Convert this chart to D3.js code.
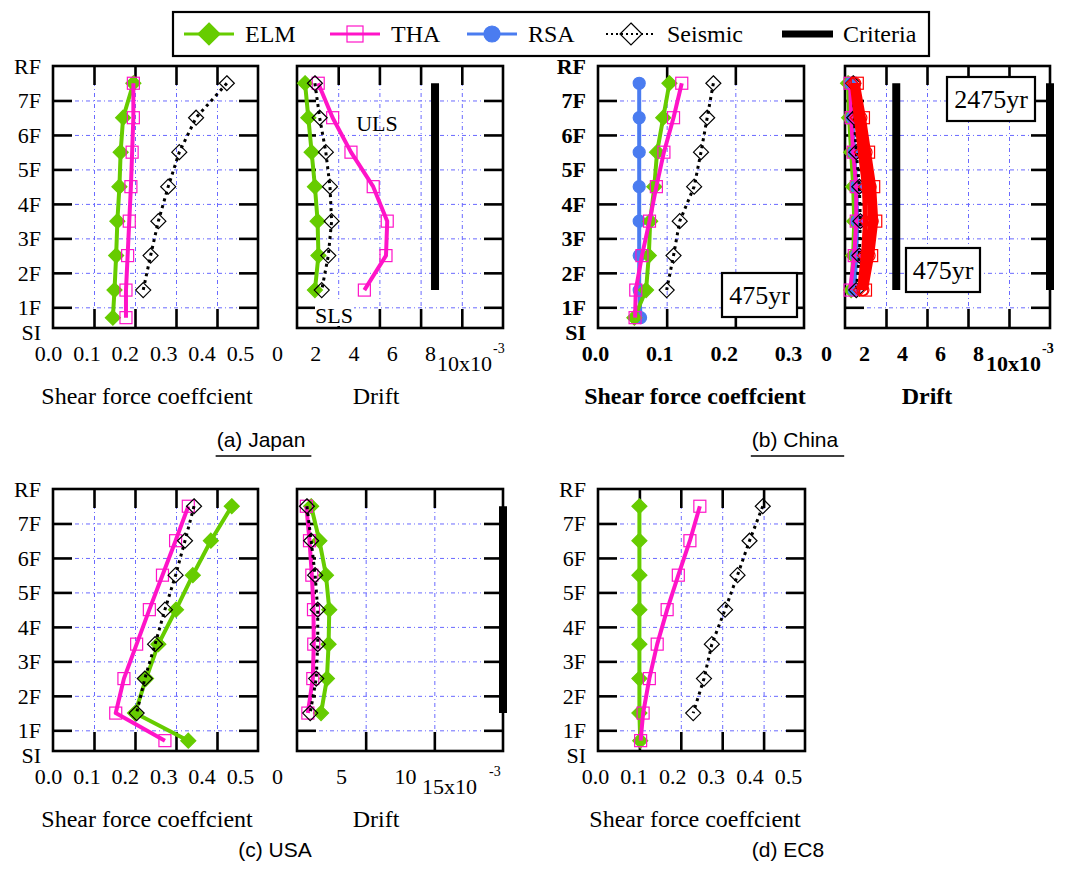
<!DOCTYPE html>
<html><head><meta charset="utf-8">
<script src="https://cdn.jsdelivr.net/npm/d3@7/dist/d3.min.js"></script>
<style>body{margin:0;background:#fff}svg{display:block}</style>
</head><body>
<svg id="chart" width="1092" height="874"></svg>
<script>
// ---------- data ----------
const floorLevels = [7.5, 6.5, 5.5, 4.5, 3.5, 2.5, 1.5];
const siLevel = [0.7];
const floorTickValues = [8, 7, 6, 5, 4, 3, 2, 1, 0.27];
const floorTickLabels = ["RF", "7F", "6F", "5F", "4F", "3F", "2F", "1F", "SI"];
const floorGrid = [7, 6, 5, 4, 3, 2, 1];

const shearTicks = [0, 0.1, 0.2, 0.3, 0.4, 0.5];
const shearTicksChina = [0, 0.1, 0.2, 0.3];
const driftTicks = [0, 2, 4, 6, 8];
const driftTicksUSA = [0, 5, 10];

// (a) Japan
const japanShearELM = [0.196, 0.171, 0.165, 0.162, 0.157, 0.154, 0.150, 0.146];
const japanShearTHA = [0.196, 0.196, 0.193, 0.190, 0.186, 0.182, 0.178, 0.178];
const japanShearSeismic = [0.424, 0.349, 0.308, 0.281, 0.257, 0.238, 0.220];
const japanDriftELM = [0.39, 0.55, 0.71, 0.87, 1.00, 1.04, 0.87];
const japanDriftTHA = [1.03, 1.73, 2.62, 3.70, 4.38, 4.32, 3.27];
const japanDriftSeismic = [0.87, 1.10, 1.40, 1.60, 1.68, 1.52, 1.20];
const japanCriteria = [6.7];

// (b) China
const chinaShearELM = [0.104, 0.095, 0.086, 0.082, 0.076, 0.074, 0.070, 0.053];
const chinaShearTHA = [0.122, 0.110, 0.096, 0.085, 0.075, 0.064, 0.055, 0.054];
const chinaShearRSA = [0.060, 0.060, 0.060, 0.060, 0.060, 0.060, 0.060, 0.062];
const chinaShearSeismic = [0.168, 0.159, 0.150, 0.140, 0.119, 0.110, 0.100];
const chinaDriftELM = [0.15, 0.20, 0.30, 0.40, 0.45, 0.40, 0.30];
const chinaDriftTHA = [0.25, 0.30, 0.40, 0.55, 0.55, 0.45, 0.25];
const chinaDriftRSA = [0.30, 0.35, 0.45, 0.55, 0.60, 0.55, 0.45];
const chinaDriftSeismic = [0.40, 0.45, 0.55, 0.70, 0.75, 0.70, 0.55];
const chinaDrift2475ELM = [0.35, 0.55, 0.75, 0.95, 1.00, 0.90, 0.70];
const chinaDrift2475RSA = [0.50, 0.80, 1.05, 1.25, 1.35, 1.20, 0.90];
const chinaDrift2475Seismic = [0.45, 0.70, 0.95, 1.15, 1.25, 1.05, 0.85];
const chinaDrift2475THA = [0.60, 0.90, 1.15, 1.40, 1.50, 1.30, 1.00];
const chinaCriteria = [2.5, 10];

// (c) USA
const usaShearELM = [0.436, 0.385, 0.341, 0.300, 0.257, 0.227, 0.200, 0.330];
const usaShearTHA = [0.330, 0.299, 0.267, 0.235, 0.204, 0.173, 0.153, 0.273];
const usaShearSeismic = [0.344, 0.322, 0.299, 0.273, 0.249, 0.224, 0.204];
const usaDriftELM = [1.03, 1.63, 2.11, 2.35, 2.30, 2.18, 1.75];
const usaDriftTHA = [0.68, 0.91, 1.08, 1.20, 1.22, 1.15, 0.79];
const usaDriftSeismic = [0.72, 1.03, 1.32, 1.51, 1.51, 1.40, 0.96];
const usaCriteria = [15];

// (d) EC8
const ec8ShearELM = [0.100, 0.100, 0.100, 0.100, 0.100, 0.100, 0.100, 0.102];
const ec8ShearTHA = [0.246, 0.222, 0.194, 0.167, 0.143, 0.124, 0.109, 0.103];
const ec8ShearSeismic = [0.398, 0.366, 0.337, 0.307, 0.275, 0.256, 0.230];

const legendNames = ["ELM", "THA", "RSA", "Seismic", "Criteria"];

// ---------- styles ----------
const SERIF = "Liberation Serif, Times New Roman, serif";
const SANS = "Liberation Sans, Arial, sans-serif";
const GRID = "#6a6aff";
const styles = {
  ELM: {color: "#66cc00", width: 4, dash: null, marker: "diamond", fill: true, size: 15},
  THA: {color: "#ff14c8", width: 4, dash: null, marker: "square", fill: false, size: 12},
  RSA: {color: "#4a7cf0", width: 4, dash: null, marker: "circle", fill: true, size: 12},
  Seismic: {color: "#000", width: 3, dash: "3,4", marker: "diamond", fill: false, size: 15, mcolor: "#000"},
  R_ELM: {color: "#ff0000", width: 5, dash: null, marker: "diamond", fill: false, size: 12},
  R_RSA: {color: "#ff0000", width: 5, dash: null, marker: "circle", fill: false, size: 11},
  R_Seismic: {color: "#ff0000", width: 5, dash: null, marker: "circle", fill: false, size: 11},
  R_THA: {color: "#ff0000", width: 5, dash: null, marker: "square", fill: false, size: 12}
};

const svg = d3.select("#chart");

function drawMarker(g, type, cx, cy, size, color, fill, sw) {
  const h = size / 2;
  let el;
  if (type === "diamond") {
    el = g.append("path").attr("d", `M${cx},${cy - h}L${cx + h},${cy}L${cx},${cy + h}L${cx - h},${cy}Z`);
  } else if (type === "square") {
    el = g.append("rect").attr("x", cx - h).attr("y", cy - h).attr("width", size).attr("height", size);
  } else {
    el = g.append("circle").attr("cx", cx).attr("cy", cy).attr("r", h);
  }
  el.attr("fill", fill ? color : "none").attr("stroke", color).attr("stroke-width", sw || 1.2);
}

function panel(cfg) {
  const g = svg.append("g");
  const x = d3.scaleLinear().domain(cfg.xDomain).range([cfg.left, cfg.right]);
  const y = d3.scaleLinear().domain([0.4, 8]).range([cfg.bottom, cfg.top]);
  const W = cfg.right - cfg.left, H = cfg.bottom - cfg.top;
  const fw = cfg.bold ? "bold" : "normal";

  // grid
  g.append("g").attr("transform", `translate(0,${cfg.bottom})`)
    .call(d3.axisBottom(x).tickValues(cfg.grid).tickSize(-H).tickFormat(""))
    .call(s => s.select(".domain").remove())
    .selectAll("line").attr("stroke", GRID).attr("stroke-width", 1).attr("stroke-dasharray", "4,3,1,3");
  g.append("g").attr("transform", `translate(${cfg.left},0)`)
    .call(d3.axisLeft(y).tickValues(floorGrid).tickSize(-W).tickFormat(""))
    .call(s => s.select(".domain").remove())
    .selectAll("line").attr("stroke", GRID).attr("stroke-width", 1).attr("stroke-dasharray", "4,3,1,3");

  // inward ticks
  const T = 19;
  const tickStyle = s => { s.select(".domain").remove(); s.selectAll("line").attr("stroke", "#000").attr("stroke-width", 2.6); };
  g.append("g").attr("transform", `translate(0,${cfg.bottom})`).call(d3.axisBottom(x).tickValues(cfg.grid).tickSize(-T).tickFormat("")).call(tickStyle);
  g.append("g").attr("transform", `translate(0,${cfg.top})`).call(d3.axisTop(x).tickValues(cfg.grid).tickSize(-T).tickFormat("")).call(tickStyle);
  g.append("g").attr("transform", `translate(${cfg.left},0)`).call(d3.axisLeft(y).tickValues(floorGrid).tickSize(-T).tickFormat("")).call(tickStyle);
  g.append("g").attr("transform", `translate(${cfg.right},0)`).call(d3.axisRight(y).tickValues(floorGrid).tickSize(-T).tickFormat("")).call(tickStyle);

  // box
  g.append("rect").attr("x", cfg.left).attr("y", cfg.top).attr("width", W).attr("height", H)
    .attr("fill", "none").attr("stroke", "#000").attr("stroke-width", 2.6);

  // criteria
  (cfg.criteria || []).forEach(c => {
    g.append("line").attr("x1", x(c)).attr("x2", x(c)).attr("y1", y(7.5)).attr("y2", y(1.5))
      .attr("stroke", "#000").attr("stroke-width", 8);
  });

  // series
  cfg.series.forEach(s => {
    const st = styles[s.style];
    const lv = s.values.length === 8 ? floorLevels.concat(siLevel) : floorLevels;
    const pts = s.values.map((v, i) => ({v, l: lv[i]}));
    const line = d3.line().x(d => x(d.v)).y(d => y(d.l));
    const p = g.append("path").datum(pts).attr("d", line).attr("fill", "none")
      .attr("stroke", st.color).attr("stroke-width", st.width).attr("stroke-linejoin", "round");
    if (st.dash) p.attr("stroke-dasharray", st.dash);
    const mc = st.mcolor || st.color;
    pts.forEach(d => drawMarker(g, st.marker, x(d.v), y(d.l), st.size, mc, st.fill, 1.2));
  });

  // y labels
  if (cfg.yLabels) {
    const ya = g.append("g").attr("transform", `translate(${cfg.left},0)`)
      .call(d3.axisLeft(y).tickValues(floorTickValues).tickSize(0).tickPadding(12)
        .tickFormat((d, i) => floorTickLabels[i]));
    ya.select(".domain").remove();
    ya.selectAll("text").attr("font-family", SERIF).attr("font-size", 22).attr("font-weight", fw)
      .attr("fill", "#000").attr("dy", "0.34em");
  }

  // x labels
  const xl = d3.scaleLinear().domain(cfg.labelDomain).range(cfg.labelRange);
  const xa = g.append("g").attr("transform", `translate(0,${cfg.bottom})`)
    .call(d3.axisBottom(xl).tickValues(cfg.labelTicks).tickSize(0).tickFormat(cfg.fmt));
  xa.select(".domain").remove();
  xa.selectAll("text").attr("font-family", SERIF).attr("font-size", 22).attr("font-weight", fw)
    .attr("fill", "#000").attr("y", 25).attr("dy", "0.35em");

  if (cfg.unit) {
    const t = g.append("text").attr("x", cfg.unit.x).attr("y", cfg.bottom + 43)
      .attr("font-family", SERIF).attr("font-size", 22).attr("font-weight", fw).text(cfg.unit.text);
    t.append("tspan").attr("dx", cfg.unit.dx).attr("dy", -18).attr("font-size", 14).text("-3");
  }

  g.append("text").attr("x", cfg.titleX).attr("y", cfg.bottom + 76).attr("text-anchor", "middle")
    .attr("font-family", SERIF).attr("font-size", 24).attr("font-weight", fw).text(cfg.title);
  return {x, y, g};
}

const fmt1 = d3.format(".1f");
const fmt0 = d3.format("d");

// (a) Japan shear
panel({left: 53, right: 258, top: 66, bottom: 328, xDomain: [0, 0.5], grid: [0.1, 0.2, 0.3, 0.4],
  labelDomain: [0, 0.5], labelRange: [48, 240], labelTicks: shearTicks, fmt: fmt1, yLabels: true,
  title: "Shear force coeffcient", titleX: 147,
  series: [{values: japanShearELM, style: "ELM"}, {values: japanShearTHA, style: "THA"},
           {values: japanShearSeismic, style: "Seismic"}]});
// (a) Japan drift
const pa = panel({left: 297, right: 503, top: 66, bottom: 328, xDomain: [0, 10], grid: [2, 4, 6, 8],
  labelDomain: [0, 8], labelRange: [277, 430], labelTicks: driftTicks, fmt: fmt0,
  unit: {x: 437, text: "10x10", dx: 1}, title: "Drift", titleX: 376, criteria: japanCriteria,
  series: [{values: japanDriftELM, style: "ELM"}, {values: japanDriftTHA, style: "THA"},
           {values: japanDriftSeismic, style: "Seismic"}]});
pa.g.append("text").attr("x", 377).attr("y", 131).attr("text-anchor", "middle")
  .attr("font-family", SERIF).attr("font-size", 22).text("ULS");
pa.g.append("rect").attr("x", 315).attr("y", 302).attr("width", 39).attr("height", 24).attr("fill", "#fff");
pa.g.append("text").attr("x", 334).attr("y", 323).attr("text-anchor", "middle")
  .attr("font-family", SERIF).attr("font-size", 22).text("SLS");

// (b) China shear
const pb = panel({left: 598, right: 804, top: 66, bottom: 328, xDomain: [0, 0.3], grid: [0.1, 0.2],
  labelDomain: [0, 0.3], labelRange: [595, 788], labelTicks: shearTicksChina, fmt: fmt1, yLabels: true, bold: true,
  title: "Shear force coeffcient", titleX: 695,
  series: [{values: chinaShearRSA, style: "RSA"}, {values: chinaShearELM, style: "ELM"},
           {values: chinaShearTHA, style: "THA"}, {values: chinaShearSeismic, style: "Seismic"}]});
function boxLabel(g, x0, y0, w, h, txt) {
  g.append("rect").attr("x", x0).attr("y", y0).attr("width", w).attr("height", h)
    .attr("fill", "#fff").attr("stroke", "#000").attr("stroke-width", 2.2);
  g.append("text").attr("x", x0 + w / 2).attr("y", y0 + h / 2).attr("dy", "0.35em").attr("text-anchor", "middle")
    .attr("font-family", SERIF).attr("font-size", 26).text(txt);
}
boxLabel(pb.g, 722, 273, 75, 44, "475yr");

// (b) China drift
const pbd = panel({left: 845, right: 1050, top: 66, bottom: 328, xDomain: [0, 10], grid: [2, 4, 6, 8],
  labelDomain: [0, 8], labelRange: [826, 978], labelTicks: driftTicks, fmt: fmt0, bold: true,
  unit: {x: 986, text: "10x10", dx: 1}, title: "Drift", titleX: 927, criteria: chinaCriteria,
  series: [{values: chinaDriftELM, style: "ELM"}, {values: chinaDriftRSA, style: "RSA"},
           {values: chinaDriftTHA, style: "THA"}, {values: chinaDriftSeismic, style: "Seismic"},
           {values: chinaDrift2475ELM, style: "R_ELM"}, {values: chinaDrift2475Seismic, style: "R_Seismic"},
           {values: chinaDrift2475RSA, style: "R_RSA"}, {values: chinaDrift2475THA, style: "R_THA"}]});
boxLabel(pbd.g, 947, 77, 88, 44, "2475yr");
boxLabel(pbd.g, 906, 248, 74, 44, "475yr");

// (c) USA shear
panel({left: 53, right: 258, top: 489, bottom: 751, xDomain: [0, 0.5], grid: [0.1, 0.2, 0.3, 0.4],
  labelDomain: [0, 0.5], labelRange: [48, 240], labelTicks: shearTicks, fmt: fmt1, yLabels: true,
  title: "Shear force coeffcient", titleX: 147,
  series: [{values: usaShearELM, style: "ELM"}, {values: usaShearTHA, style: "THA"},
           {values: usaShearSeismic, style: "Seismic"}]});
// (c) USA drift
panel({left: 297, right: 503, top: 489, bottom: 751, xDomain: [0, 15], grid: [5, 10],
  labelDomain: [0, 10], labelRange: [277, 405], labelTicks: driftTicksUSA, fmt: fmt0,
  unit: {x: 422, text: "15x10", dx: 12}, title: "Drift", titleX: 376, criteria: usaCriteria,
  series: [{values: usaDriftELM, style: "ELM"}, {values: usaDriftTHA, style: "THA"},
           {values: usaDriftSeismic, style: "Seismic"}]});

// (d) EC8 shear
panel({left: 598, right: 805, top: 489, bottom: 751, xDomain: [0, 0.5], grid: [0.1, 0.2, 0.3, 0.4],
  labelDomain: [0, 0.5], labelRange: [595, 788], labelTicks: shearTicks, fmt: fmt1, yLabels: true,
  title: "Shear force coeffcient", titleX: 695,
  series: [{values: ec8ShearELM, style: "ELM"}, {values: ec8ShearTHA, style: "THA"},
           {values: ec8ShearSeismic, style: "Seismic"}]});

// captions
const captions = [["(a) Japan", 261, 447, true], ["(b) China", 795, 447, true], ["(c) USA", 275, 857, false], ["(d) EC8", 788, 857, false]];
captions.forEach(([t, cx, cy, ul]) => {
  const tx = svg.append("text").attr("x", cx).attr("y", cy).attr("text-anchor", "middle")
    .attr("font-family", SANS).attr("font-size", 21).text(t);
  if (ul) {
    const w = tx.node().getComputedTextLength();
    svg.append("line").attr("x1", cx - w / 2 - 1).attr("x2", cx + w / 2 + 6).attr("y1", cy + 9).attr("y2", cy + 9)
      .attr("stroke", "#000").attr("stroke-width", 1.5);
  }
});

// legend
const lg = svg.append("g");
lg.append("rect").attr("x", 173).attr("y", 12).attr("width", 756).attr("height", 44)
  .attr("fill", "#fff").attr("stroke", "#000").attr("stroke-width", 2.2);
const legendX = [184, 330, 467, 606, 782];
const legendStyle = ["ELM", "THA", "RSA", "Seismic", null];
legendNames.forEach((n, i) => {
  const x0 = legendX[i], ly = 34;
  const st = legendStyle[i] ? styles[legendStyle[i]] : null;
  if (st) {
    const l = lg.append("line").attr("x1", x0).attr("x2", x0 + 50).attr("y1", ly).attr("y2", ly)
      .attr("stroke", st.color).attr("stroke-width", st.dash ? 2 : 3);
    if (st.dash) l.attr("stroke-dasharray", "2,3");
    drawMarker(lg, st.marker, x0 + 25, ly, st.marker === "diamond" ? 22 : 16, st.mcolor || st.color, st.fill, 1.2);
  } else {
    lg.append("line").attr("x1", x0).attr("x2", x0 + 51).attr("y1", ly).attr("y2", ly)
      .attr("stroke", "#000").attr("stroke-width", 7);
  }
  lg.append("text").attr("x", x0 + 61).attr("y", ly).attr("dy", "0.35em")
    .attr("font-family", SERIF).attr("font-size", 24).text(n);
});
</script>
</body></html>
